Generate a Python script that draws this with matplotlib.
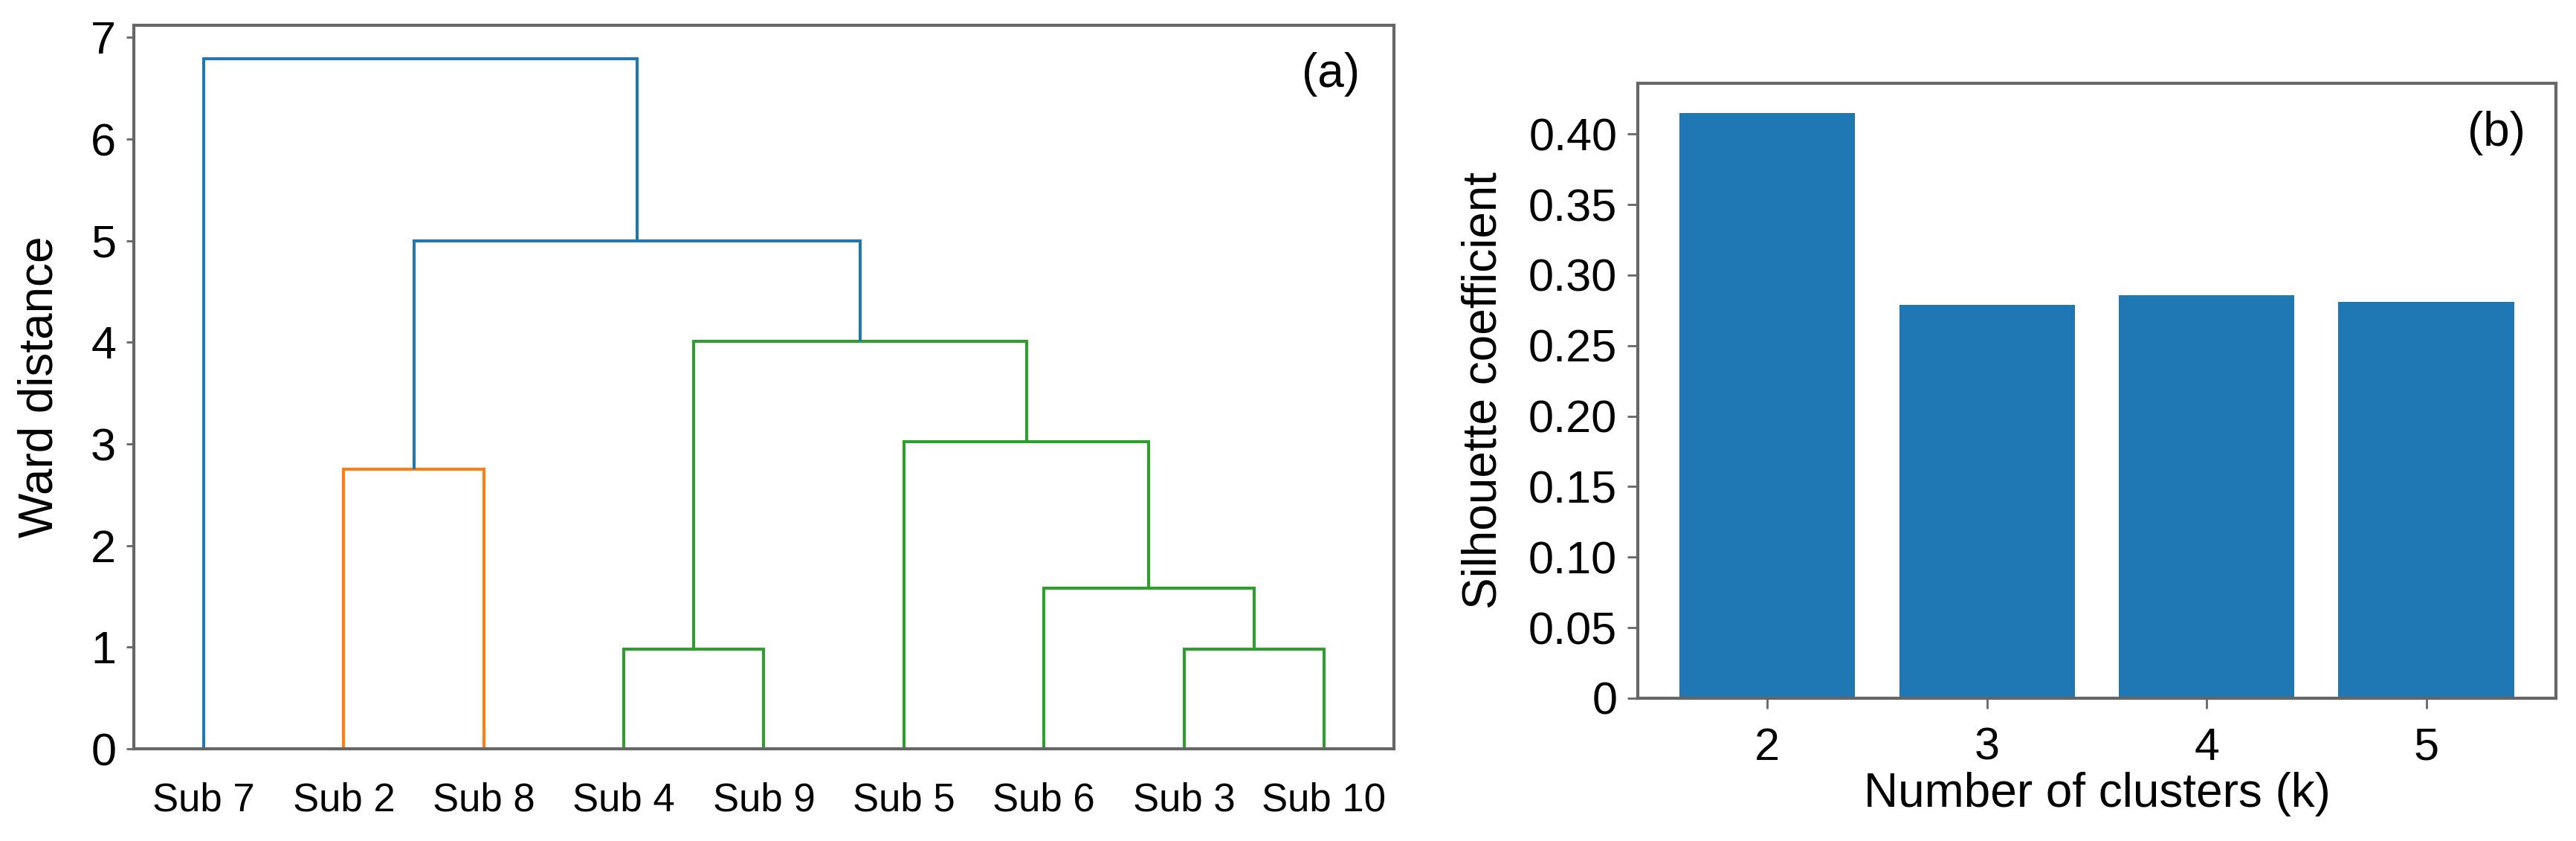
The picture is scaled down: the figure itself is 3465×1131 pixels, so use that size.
import numpy as np
import matplotlib
matplotlib.use("Agg")
import matplotlib.pyplot as plt
from matplotlib.ticker import FuncFormatter

plt.rcParams['font.family'] = ['Liberation Sans', 'DejaVu Sans']

# dendrogram data (leaf order as drawn)
leaves = ['Sub 7', 'Sub 2', 'Sub 8', 'Sub 4', 'Sub 9', 'Sub 5', 'Sub 6', 'Sub 3', 'Sub 10']
# merges: (left cluster, right cluster, ward distance, colour); new clusters get ids 9, 10, ...
merge_left = [3, 7, 6, 1, 5, 9, 12, 0]
merge_right = [4, 8, 10, 2, 11, 13, 14, 15]
merge_height = [0.98, 0.98, 1.58, 2.75, 3.02, 4.01, 5.0, 6.79]
merge_color = ['tab:green', 'tab:green', 'tab:green', 'tab:orange',
               'tab:green', 'tab:green', 'tab:blue', 'tab:blue']

# silhouette data
k_values = [2, 3, 4, 5]
silhouette = [0.415, 0.279, 0.2855, 0.281]

spine_col = '#666666'

fig = plt.figure(figsize=(34.66, 11.31), dpi=100)
ax1 = fig.add_axes([0.0519, 0.1096, 0.4891, 0.8604])
ax2 = fig.add_axes([0.6356, 0.1698, 0.3563, 0.7312])

# ---- (a) dendrogram ----
xpos = {i: 5 + 10 * i for i in range(len(leaves))}
hgt = {i: 0.0 for i in range(len(leaves))}
for j, (l, r, h, c) in enumerate(zip(merge_left, merge_right, merge_height, merge_color)):
    new = len(leaves) + j
    xl, xr = xpos[l], xpos[r]
    ax1.plot([xl, xl, xr, xr], [hgt[l], h, h, hgt[r]], color=c, lw=2.9,
             solid_joinstyle='miter', solid_capstyle='butt')
    xpos[new] = (xl + xr) / 2
    hgt[new] = h

ax1.set_xlim(0, 10 * len(leaves))
ax1.set_ylim(0, 7.12)
ax1.set_xticks([5 + 10 * i for i in range(len(leaves))])
ax1.set_xticklabels(leaves, fontsize=38)
ax1.set_yticks(range(0, 8))
ax1.tick_params(axis='x', length=0, pad=32)
ax1.tick_params(axis='y', labelsize=44, length=7, width=2, color=spine_col, pad=10)
ax1.set_ylabel('Ward distance', fontsize=46)
ax1.yaxis.set_label_coords(-0.057, 0.5)
ax1.text(0.973, 0.963, '(a)', transform=ax1.transAxes, ha='right', va='top', fontsize=46)

# ---- (b) silhouette bars ----
ax2.bar(k_values, silhouette, width=0.8, color='#1f77b4')
ax2.set_ylim(0, 0.436)
ax2.set_xticks(k_values)
ax2.set_yticks(np.arange(0, 0.41, 0.05))
ax2.yaxis.set_major_formatter(FuncFormatter(lambda v, p: '0' if abs(v) < 1e-9 else f'{v:.2f}'))
ax2.tick_params(axis='x', labelsize=44, length=10, width=2, color=spine_col, pad=18)
ax2.tick_params(axis='y', labelsize=44, length=10, width=2, color=spine_col, pad=10)
ax2.set_xlabel('Number of clusters (k)', fontsize=46)
ax2.xaxis.set_label_coords(0.5, -0.12)
ax2.set_ylabel('Silhouette coefficient', fontsize=46)
ax2.yaxis.set_label_coords(-0.144, 0.5)
ax2.text(0.967, 0.955, '(b)', transform=ax2.transAxes, ha='right', va='top', fontsize=46)

for ax in (ax1, ax2):
    for s in ax.spines.values():
        s.set_color(spine_col)
        s.set_linewidth(3)

fig.savefig('out.png', dpi=100)
